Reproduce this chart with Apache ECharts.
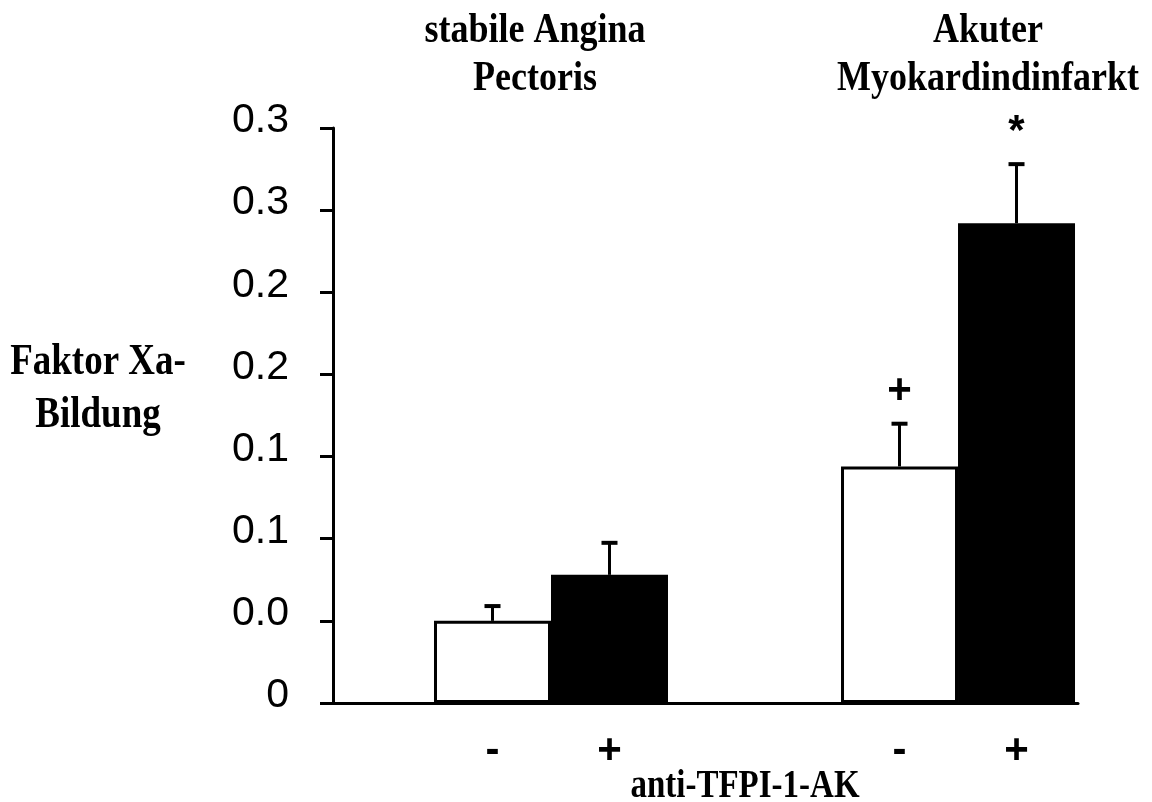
<!DOCTYPE html>
<html>
<head>
<meta charset="utf-8">
<script src="https://cdn.jsdelivr.net/npm/echarts@6/dist/echarts.min.js"></script>
<style>html,body{margin:0;padding:0;background:#fff;}#chart{width:1152px;height:802px;}</style>
</head>
<body>
<div id="chart"></div>
<script>
// ---- data ----
var categories = ['stabile Angina\nPectoris', 'Akuter\nMyokardindinfarkt'];
var groupPos = [1, 2];
var withoutAK = [0.050, 0.144];      // white bars (anti-TFPI-1-AK -)
var withAK = [0.078, 0.292];         // black bars (anti-TFPI-1-AK +)
var errWithout = [0.009, 0.026];
var errWith = [0.0195, 0.036];
var sigWithout = ['', '+'];
var sigWith = ['', '*'];
var barLabels = ['-', '+'];
var yTickLabels = ['0', '0.0', '0.1', '0.1', '0.2', '0.2', '0.3', '0.3'];
var yAxisTitle = 'Faktor Xa-\nBildung';
var xAxisTitle = 'anti-TFPI-1-AK';

// ---- chart ----
var BAR_W = 117;
var chart = echarts.init(document.getElementById('chart'));

function makeBarData(vals) {
  return vals.map(function (v, i) { return [groupPos[i], v]; });
}
function makeErrData(vals, errs, sigs) {
  return vals.map(function (v, i) { return [groupPos[i], v, errs[i], sigs[i]]; });
}
function errRender(side) {
  return function (params, api) {
    var x = api.value(0), y = api.value(1), e = api.value(2);
    var sig = api.value(3);
    var top = api.coord([x, y + e]);
    var base = api.coord([x, y]);
    var cx = top[0] + side * BAR_W / 2;
    var children = [
      { type: 'line', shape: { x1: cx, y1: base[1], x2: cx, y2: top[1] },
        style: { stroke: '#000', lineWidth: 3 } },
      { type: 'line', shape: { x1: cx - 8, y1: top[1], x2: cx + 8, y2: top[1] },
        style: { stroke: '#000', lineWidth: 4 } }
    ];
    if (sig) {
      children.push({ type: 'text', x: cx, y: top[1] - 32,
        style: { text: sig, font: 'bold 42px "Liberation Sans", Arial, sans-serif',
          fill: '#000', align: 'center', verticalAlign: 'middle' } });
    }
    return { type: 'group', children: children };
  };
}

var serifFont = 'bold 37px "Liberation Serif", "Times New Roman", serif';

var option = {
  backgroundColor: '#fff',
  animation: false,
  grid: { left: 333, right: 74, top: 128, bottom: 99, containLabel: false },
  xAxis: {
    type: 'value', min: 0.4644, max: 2.2948,
    axisLine: { show: true, lineStyle: { color: '#000', width: 3 } },
    axisTick: { show: false }, axisLabel: { show: false }, splitLine: { show: false }
  },
  yAxis: {
    type: 'value', min: 0, max: 0.35, interval: 0.05,
    axisLine: { show: true, lineStyle: { color: '#000', width: 3 } },
    axisTick: { show: true, length: 13, lineStyle: { color: '#000', width: 3 } },
    splitLine: { show: false },
    axisLabel: {
      margin: 44,
      formatter: function (v) { return '{t|' + yTickLabels[Math.round(v / 0.05)] + '}'; },
      rich: { t: { color: '#000', fontSize: 41, fontFamily: '"Liberation Sans", Arial, sans-serif',
        padding: [0, 0, 14, 0] } }
    }
  },
  series: [
    { type: 'bar', name: 'ohne', data: makeBarData(withoutAK), barWidth: BAR_W, barGap: '0%',
      itemStyle: { color: '#fff', borderColor: '#000', borderWidth: 3 },
      label: { show: true, position: 'bottom', distance: 27, formatter: barLabels[0],
        color: '#000', fontSize: 42, fontWeight: 'bold', fontFamily: '"Liberation Sans", Arial, sans-serif' } },
    { type: 'bar', name: 'mit', data: makeBarData(withAK), barWidth: BAR_W, barGap: '0%',
      itemStyle: { color: '#000' },
      label: { show: true, position: 'bottom', distance: 27, formatter: barLabels[1],
        color: '#000', fontSize: 42, fontWeight: 'bold', fontFamily: '"Liberation Sans", Arial, sans-serif' } },
    { type: 'custom', data: makeErrData(withoutAK, errWithout, sigWithout), renderItem: errRender(-1),
      encode: { x: 0, y: 1 }, z: 5 },
    { type: 'custom', data: makeErrData(withAK, errWith, sigWith), renderItem: errRender(1),
      encode: { x: 0, y: 1 }, z: 5 }
  ],
  graphic: [
    { type: 'text', x: 535, y: 55, scaleY: 1.2,
      style: { text: categories[0], font: 'bold 36px "Liberation Serif", "Times New Roman", serif', fill: '#000', align: 'center', verticalAlign: 'middle', lineHeight: 40 } },
    { type: 'text', x: 988, y: 55, scaleY: 1.2,
      style: { text: categories[1], font: 'bold 36px "Liberation Serif", "Times New Roman", serif', fill: '#000', align: 'center', verticalAlign: 'middle', lineHeight: 40 } },
    { type: 'text', x: 98, y: 389, scaleY: 1.2,
      style: { text: yAxisTitle, font: serifFont, fill: '#000', align: 'center', verticalAlign: 'middle', lineHeight: 44 } },
    { type: 'text', x: 745, y: 787, scaleY: 1.2,
      style: { text: xAxisTitle, font: 'bold 33px "Liberation Serif", "Times New Roman", serif', fill: '#000', align: 'center', verticalAlign: 'middle' } }
  ]
};
chart.setOption(option);
</script>
</body>
</html>
